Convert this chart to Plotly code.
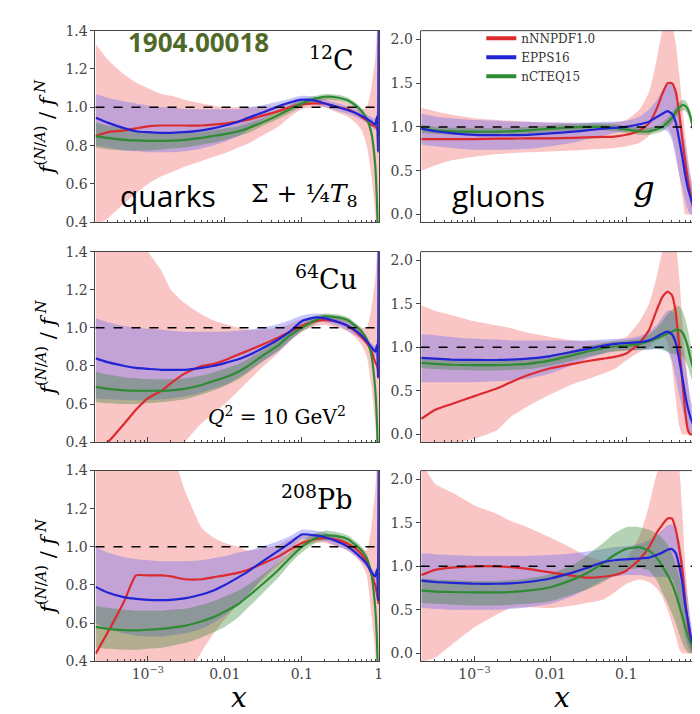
import plotly.graph_objects as go

# ---------------- data ----------------
XQ = [2.1e-4, 3e-4, 5e-4, 7e-4, 1e-3, 1.5e-3, 2e-3, 3e-3, 5e-3, 7e-3, 0.01, 0.015, 0.02, 0.03,
      0.05, 0.07, 0.1, 0.15, 0.2, 0.3, 0.4, 0.5, 0.6, 0.7, 0.8, 0.9, 0.95, 0.98, 1.0]
XG = [2e-4, 3e-4, 5e-4, 1e-3, 2e-3, 3e-3, 5e-3, 0.01, 0.02, 0.03, 0.05, 0.07, 0.1, 0.15, 0.2,
      0.25, 0.3, 0.35, 0.4, 0.45, 0.5, 0.55, 0.6, 0.65, 0.7, 0.75, 0.8, 0.85, 0.9, 0.95, 1.0]

# 12C quarks
C_Q_NNPDF = [0.85,0.87,0.88,0.89,0.90,0.905,0.905,0.905,0.905,0.91,0.915,0.925,0.935,0.955,0.98,1.0,1.015,1.02,1.02,1.0,0.99,0.97,0.95,0.93,0.91,0.90,0.89,0.88,0.85]
C_Q_NNPDF_HI = [1.33,1.25,1.17,1.13,1.10,1.07,1.06,1.04,1.02,1.01,1.0,1.0,1.0,1.0,1.01,1.03,1.04,1.05,1.05,1.04,1.02,1.0,0.99,1.0,1.1,1.25,1.4,1.5,1.5]
C_Q_NNPDF_LO = [0.38,0.42,0.5,0.55,0.6,0.64,0.66,0.69,0.72,0.74,0.76,0.79,0.81,0.85,0.9,0.95,0.99,1.0,1.0,0.97,0.95,0.92,0.88,0.8,0.65,0.45,0.3,0.3,0.3]
C_Q_EPPS = [0.945,0.92,0.89,0.875,0.87,0.867,0.867,0.87,0.88,0.89,0.905,0.925,0.945,0.97,1.005,1.025,1.04,1.035,1.02,1.0,0.985,0.97,0.955,0.94,0.925,0.91,0.95,0.77,1.5]
C_Q_EPPS_HI = [1.07,1.05,1.03,1.02,1.01,1.0,1.0,0.99,0.99,0.99,0.99,0.99,1.0,1.01,1.03,1.045,1.06,1.055,1.04,1.02,1.005,0.99,0.975,0.96,0.95,0.94,0.98,0.8,1.5]
C_Q_EPPS_LO = [0.8,0.79,0.775,0.77,0.765,0.765,0.765,0.77,0.785,0.8,0.82,0.85,0.88,0.93,0.98,1.005,1.02,1.015,1.0,0.98,0.965,0.95,0.935,0.92,0.9,0.88,0.92,0.74,1.5]
C_Q_NCTEQ = [0.85,0.84,0.83,0.827,0.825,0.825,0.826,0.83,0.84,0.85,0.86,0.875,0.89,0.92,0.96,0.99,1.02,1.045,1.055,1.05,1.035,1.01,0.98,0.94,0.87,0.7,0.5,0.3,0.2]
C_Q_NCTEQ_HI = [0.92,0.905,0.89,0.88,0.87,0.865,0.865,0.865,0.87,0.88,0.89,0.9,0.915,0.94,0.98,1.01,1.04,1.06,1.07,1.065,1.05,1.025,0.995,0.955,0.89,0.72,0.53,0.33,0.23]
C_Q_NCTEQ_LO = [0.79,0.78,0.775,0.775,0.775,0.78,0.785,0.79,0.805,0.815,0.83,0.85,0.865,0.9,0.94,0.97,1.0,1.03,1.04,1.035,1.02,0.995,0.965,0.925,0.85,0.68,0.47,0.27,0.17]

# 64Cu quarks
CU_Q_NNPDF = [0.37,0.4,0.5,0.57,0.63,0.67,0.71,0.76,0.8,0.81,0.83,0.86,0.88,0.91,0.95,0.98,1.01,1.035,1.04,1.03,1.01,0.98,0.95,0.92,0.88,0.82,0.8,0.78,0.75]
CU_Q_NNPDF_HI = [1.5,1.5,1.5,1.5,1.4,1.3,1.2,1.13,1.07,1.04,1.02,1.0,0.99,0.99,1.0,1.02,1.045,1.06,1.065,1.06,1.04,1.02,1.0,1.0,1.1,1.25,1.4,1.5,1.5]
CU_Q_NNPDF_LO = [0.3,0.3,0.3,0.3,0.3,0.3,0.3,0.4,0.5,0.55,0.6,0.67,0.72,0.79,0.87,0.93,0.98,1.01,1.015,1.0,0.98,0.95,0.91,0.85,0.7,0.5,0.35,0.3,0.3]
CU_Q_EPPS = [0.84,0.82,0.8,0.79,0.785,0.78,0.78,0.78,0.79,0.8,0.815,0.835,0.855,0.89,0.94,0.98,1.035,1.055,1.05,1.03,1.01,0.985,0.96,0.93,0.9,0.875,0.91,0.74,1.5]
CU_Q_EPPS_HI = [1.05,1.03,1.01,1.0,0.995,0.99,0.985,0.98,0.98,0.98,0.98,0.985,0.99,1.0,1.02,1.04,1.065,1.075,1.07,1.05,1.03,1.005,0.98,0.95,0.92,0.9,0.94,0.77,1.5]
CU_Q_EPPS_LO = [0.63,0.625,0.62,0.62,0.62,0.625,0.63,0.64,0.66,0.68,0.7,0.74,0.77,0.82,0.88,0.93,0.99,1.03,1.03,1.01,0.985,0.96,0.94,0.91,0.88,0.85,0.88,0.71,1.5]
CU_Q_NCTEQ = [0.69,0.68,0.672,0.67,0.67,0.67,0.672,0.68,0.7,0.72,0.74,0.77,0.8,0.85,0.91,0.96,1.0,1.04,1.06,1.055,1.04,1.01,0.98,0.94,0.86,0.68,0.5,0.3,0.2]
CU_Q_NCTEQ_HI = [0.77,0.755,0.74,0.735,0.73,0.73,0.73,0.735,0.75,0.765,0.785,0.81,0.835,0.88,0.94,0.985,1.02,1.06,1.075,1.07,1.055,1.025,0.995,0.955,0.88,0.7,0.52,0.32,0.22]
CU_Q_NCTEQ_LO = [0.61,0.605,0.6,0.6,0.605,0.61,0.615,0.625,0.65,0.67,0.695,0.73,0.765,0.82,0.88,0.935,0.98,1.02,1.045,1.04,1.025,0.995,0.965,0.925,0.84,0.66,0.48,0.28,0.18]

# 208Pb quarks
PB_Q_NNPDF = [0.44,0.55,0.72,0.85,0.85,0.85,0.845,0.83,0.83,0.84,0.85,0.865,0.88,0.91,0.95,0.985,1.02,1.04,1.045,1.035,1.015,0.99,0.96,0.92,0.86,0.8,0.75,0.72,0.7]
PB_Q_NNPDF_HI = [1.5,1.5,1.5,1.5,1.5,1.5,1.5,1.3,1.1,1.05,1.02,1.0,0.98,0.99,1.01,1.04,1.06,1.07,1.065,1.05,1.03,1.01,0.99,0.98,1.1,1.3,1.45,1.5,1.5]
PB_Q_NNPDF_LO = [0.3,0.3,0.3,0.3,0.3,0.3,0.3,0.3,0.45,0.54,0.62,0.7,0.75,0.82,0.9,0.95,1.0,1.02,1.02,1.0,0.98,0.95,0.91,0.85,0.65,0.45,0.3,0.3,0.3]
PB_Q_EPPS = [0.79,0.76,0.735,0.727,0.722,0.72,0.722,0.73,0.75,0.77,0.8,0.84,0.87,0.92,0.98,1.02,1.065,1.06,1.05,1.025,1.0,0.97,0.94,0.91,0.87,0.845,0.88,0.72,1.5]
PB_Q_EPPS_HI = [1.0,0.97,0.945,0.935,0.93,0.925,0.925,0.925,0.93,0.94,0.95,0.97,0.98,1.0,1.03,1.055,1.09,1.085,1.075,1.05,1.02,0.99,0.96,0.93,0.89,0.87,0.91,0.75,1.5]
PB_Q_EPPS_LO = [0.6,0.57,0.545,0.535,0.53,0.53,0.535,0.545,0.57,0.6,0.64,0.7,0.75,0.83,0.92,0.98,1.04,1.04,1.03,1.0,0.98,0.95,0.92,0.89,0.85,0.82,0.85,0.69,1.5]
PB_Q_NCTEQ = [0.58,0.57,0.563,0.562,0.565,0.57,0.575,0.585,0.61,0.63,0.66,0.7,0.74,0.8,0.88,0.94,1.0,1.045,1.06,1.055,1.04,1.01,0.98,0.94,0.86,0.68,0.5,0.3,0.2]
PB_Q_NCTEQ_HI = [0.69,0.68,0.67,0.665,0.665,0.665,0.67,0.675,0.695,0.715,0.74,0.77,0.8,0.85,0.92,0.97,1.03,1.07,1.085,1.075,1.06,1.03,1.0,0.96,0.88,0.7,0.52,0.32,0.22]
PB_Q_NCTEQ_LO = [0.47,0.465,0.46,0.46,0.465,0.47,0.48,0.495,0.525,0.55,0.58,0.63,0.68,0.75,0.84,0.91,0.97,1.02,1.035,1.035,1.02,0.99,0.96,0.92,0.84,0.66,0.48,0.28,0.18]

# 12C gluons
C_G_NNPDF = [0.86,0.86,0.86,0.86,0.865,0.865,0.87,0.87,0.875,0.88,0.885,0.89,0.91,0.96,1.04,1.2,1.38,1.5,1.5,1.4,1.15,0.85,0.6,0.4,0.25,0.1,0.02,0,0,0,0]
C_G_NNPDF_HI = [1.22,1.18,1.14,1.1,1.08,1.07,1.06,1.05,1.04,1.04,1.04,1.05,1.08,1.2,1.4,1.75,2.1,2.2,2.15,1.95,1.6,1.25,0.9,0.65,0.45,0.3,0.15,0.05,0,0,0]
C_G_NNPDF_LO = [0.5,0.56,0.62,0.66,0.69,0.7,0.71,0.72,0.73,0.74,0.75,0.76,0.78,0.82,0.9,1.0,1.05,1.0,0.9,0.7,0.45,0.2,0,0,0,0,0,0,0,0,0]
C_G_EPPS = [0.98,0.95,0.93,0.91,0.905,0.905,0.91,0.925,0.945,0.96,0.98,0.99,1.0,1.03,1.06,1.11,1.15,1.18,1.15,1.05,0.85,0.65,0.45,0.3,0.2,0.12,0.07,0.03,0.01,0,0]
C_G_EPPS_HI = [1.15,1.12,1.1,1.08,1.07,1.06,1.06,1.05,1.05,1.05,1.06,1.06,1.07,1.12,1.2,1.3,1.42,1.5,1.5,1.4,1.2,1.0,0.8,0.6,0.45,0.3,0.2,0.1,0.05,0.02,0]
C_G_EPPS_LO = [0.8,0.78,0.76,0.74,0.74,0.74,0.75,0.78,0.82,0.86,0.9,0.93,0.95,0.96,0.96,0.97,0.97,0.95,0.85,0.65,0.45,0.3,0.15,0.05,0,0,0,0,0,0,0]
C_G_NCTEQ = [0.98,0.96,0.95,0.945,0.945,0.95,0.96,0.98,0.995,1.0,1.0,0.99,0.97,0.95,0.95,0.97,1.0,1.05,1.1,1.17,1.22,1.25,1.24,1.2,1.12,1.0,0.85,0.7,0.6,0.5,0.4]
C_G_NCTEQ_HI = [1.03,1.0,0.99,0.985,0.985,0.99,1.0,1.02,1.035,1.04,1.04,1.03,1.01,0.99,0.99,1.01,1.05,1.1,1.16,1.23,1.28,1.31,1.3,1.26,1.18,1.07,0.92,0.77,0.67,0.57,0.47]
C_G_NCTEQ_LO = [0.93,0.92,0.91,0.905,0.905,0.91,0.92,0.94,0.955,0.96,0.96,0.95,0.93,0.91,0.91,0.93,0.95,1.0,1.04,1.11,1.16,1.19,1.18,1.14,1.06,0.93,0.78,0.63,0.53,0.43,0.33]

# 64Cu gluons
CU_G_NNPDF = [0.18,0.28,0.35,0.44,0.53,0.6,0.68,0.76,0.81,0.84,0.87,0.89,0.93,1.05,1.2,1.42,1.58,1.64,1.6,1.4,1.0,0.6,0.25,0.05,0,0,0,0,0,0,0]
CU_G_NNPDF_HI = [1.48,1.42,1.37,1.3,1.25,1.22,1.17,1.12,1.08,1.07,1.07,1.08,1.12,1.3,1.5,1.8,2.1,2.2,2.2,2.15,1.8,1.3,0.9,0.6,0.35,0.15,0.05,0,0,0,0]
CU_G_NNPDF_LO = [-0.1,-0.1,-0.1,-0.05,0.05,0.2,0.32,0.46,0.58,0.63,0.7,0.75,0.85,0.95,1.0,1.1,1.15,1.05,0.8,0.4,0.1,0,0,0,0,0,0,0,0,0,0]
CU_G_EPPS = [0.88,0.87,0.86,0.855,0.855,0.86,0.87,0.9,0.95,0.98,1.02,1.04,1.05,1.06,1.08,1.12,1.16,1.18,1.15,1.05,0.85,0.65,0.45,0.3,0.2,0.13,0.09,0.06,0.05,0.03,0.02]
CU_G_EPPS_HI = [1.15,1.14,1.12,1.1,1.09,1.08,1.08,1.08,1.08,1.08,1.09,1.1,1.1,1.13,1.18,1.25,1.35,1.42,1.42,1.35,1.2,1.0,0.8,0.6,0.42,0.3,0.2,0.12,0.08,0.05,0.03]
CU_G_EPPS_LO = [0.6,0.6,0.6,0.6,0.61,0.62,0.64,0.7,0.8,0.87,0.93,0.96,0.97,0.97,0.97,0.98,0.98,0.95,0.85,0.65,0.45,0.3,0.15,0.05,0,0,0,0,0,0,0]
CU_G_NCTEQ = [0.82,0.81,0.8,0.795,0.795,0.8,0.81,0.85,0.91,0.95,0.99,1.01,1.02,1.04,1.07,1.1,1.13,1.16,1.18,1.2,1.2,1.17,1.1,1.0,0.88,0.78,0.68,0.58,0.5,0.45,0.4]
CU_G_NCTEQ_HI = [0.88,0.87,0.86,0.855,0.855,0.86,0.87,0.91,0.97,1.01,1.05,1.07,1.08,1.1,1.15,1.22,1.3,1.38,1.43,1.47,1.47,1.42,1.33,1.2,1.05,0.93,0.82,0.7,0.62,0.56,0.5]
CU_G_NCTEQ_LO = [0.76,0.75,0.74,0.735,0.735,0.74,0.75,0.79,0.85,0.89,0.93,0.95,0.96,0.97,0.98,0.98,0.97,0.95,0.93,0.92,0.92,0.9,0.85,0.78,0.68,0.6,0.52,0.45,0.38,0.33,0.28]

# 208Pb gluons
PB_G_NNPDF = [0.9,0.96,0.985,1.0,1.0,0.99,0.97,0.93,0.89,0.87,0.88,0.9,0.95,1.08,1.22,1.38,1.48,1.55,1.55,1.42,1.2,0.95,0.6,0.35,0.15,0.05,0,0,0,0,0]
PB_G_NNPDF_HI = [2.2,1.95,1.85,1.7,1.6,1.52,1.45,1.33,1.2,1.12,1.06,1.05,1.08,1.35,1.7,2.05,2.2,2.2,2.2,2.2,2.1,1.6,1.0,0.65,0.35,0.15,0.05,0,0,0,0]
PB_G_NNPDF_LO = [-0.1,-0.05,0.1,0.3,0.45,0.52,0.53,0.52,0.55,0.58,0.62,0.7,0.8,0.85,0.82,0.75,0.65,0.5,0.35,0.2,0.05,0,0,0,0,0,0,0,0,0,0]
PB_G_EPPS = [0.835,0.82,0.81,0.8,0.8,0.805,0.82,0.86,0.93,0.98,1.05,1.07,1.08,1.09,1.1,1.13,1.16,1.19,1.2,1.15,1.0,0.8,0.55,0.38,0.22,0.12,0.06,0.03,0.02,0.01,0]
PB_G_EPPS_HI = [1.15,1.14,1.13,1.12,1.12,1.12,1.12,1.13,1.15,1.17,1.2,1.22,1.23,1.26,1.3,1.35,1.42,1.47,1.48,1.42,1.3,1.1,0.85,0.62,0.4,0.25,0.14,0.07,0.04,0.02,0]
PB_G_EPPS_LO = [0.52,0.51,0.5,0.5,0.5,0.51,0.53,0.57,0.66,0.74,0.84,0.88,0.9,0.9,0.88,0.88,0.88,0.88,0.86,0.75,0.55,0.35,0.18,0.08,0.02,0,0,0,0,0,0]
PB_G_NCTEQ = [0.72,0.71,0.705,0.7,0.7,0.705,0.72,0.76,0.85,0.92,1.04,1.13,1.2,1.22,1.18,1.1,1.0,0.9,0.8,0.68,0.55,0.42,0.3,0.2,0.12,0.07,0.03,0.01,0,0,0]
PB_G_NCTEQ_HI = [0.86,0.85,0.84,0.83,0.83,0.84,0.86,0.91,1.02,1.12,1.27,1.38,1.45,1.45,1.42,1.38,1.32,1.25,1.15,1.02,0.88,0.72,0.55,0.4,0.25,0.15,0.08,0.03,0.01,0,0]
PB_G_NCTEQ_LO = [0.58,0.57,0.56,0.55,0.55,0.56,0.57,0.6,0.68,0.73,0.82,0.9,0.96,0.98,0.95,0.85,0.7,0.58,0.46,0.35,0.22,0.12,0.05,0.01,0,0,0,0,0,0,0]

SETS = ["nNNPDF1.0", "EPPS16", "nCTEQ15"]
X_TICKVALS = [1e-3, 1e-2, 1e-1, 1]
X_TICKTEXT = ["10<sup>\u22123</sup>", "0.01", "0.1", "1"]
YQ_TICKS = [0.4, 0.6, 0.8, 1.0, 1.2, 1.4]
YG_TICKS = [0.0, 0.5, 1.0, 1.5, 2.0]
MINOR_X = [k * 10.0 ** d for d in (-4, -3, -2, -1) for k in range(2, 10)]

PANELS = [
    (1, XQ, {"nNNPDF1.0": (C_Q_NNPDF, C_Q_NNPDF_LO, C_Q_NNPDF_HI),
             "EPPS16": (C_Q_EPPS, C_Q_EPPS_LO, C_Q_EPPS_HI),
             "nCTEQ15": (C_Q_NCTEQ, C_Q_NCTEQ_LO, C_Q_NCTEQ_HI)}),
    (2, XG, {"nNNPDF1.0": (C_G_NNPDF, C_G_NNPDF_LO, C_G_NNPDF_HI),
             "EPPS16": (C_G_EPPS, C_G_EPPS_LO, C_G_EPPS_HI),
             "nCTEQ15": (C_G_NCTEQ, C_G_NCTEQ_LO, C_G_NCTEQ_HI)}),
    (3, XQ, {"nNNPDF1.0": (CU_Q_NNPDF, CU_Q_NNPDF_LO, CU_Q_NNPDF_HI),
             "EPPS16": (CU_Q_EPPS, CU_Q_EPPS_LO, CU_Q_EPPS_HI),
             "nCTEQ15": (CU_Q_NCTEQ, CU_Q_NCTEQ_LO, CU_Q_NCTEQ_HI)}),
    (4, XG, {"nNNPDF1.0": (CU_G_NNPDF, CU_G_NNPDF_LO, CU_G_NNPDF_HI),
             "EPPS16": (CU_G_EPPS, CU_G_EPPS_LO, CU_G_EPPS_HI),
             "nCTEQ15": (CU_G_NCTEQ, CU_G_NCTEQ_LO, CU_G_NCTEQ_HI)}),
    (5, XQ, {"nNNPDF1.0": (PB_Q_NNPDF, PB_Q_NNPDF_LO, PB_Q_NNPDF_HI),
             "EPPS16": (PB_Q_EPPS, PB_Q_EPPS_LO, PB_Q_EPPS_HI),
             "nCTEQ15": (PB_Q_NCTEQ, PB_Q_NCTEQ_LO, PB_Q_NCTEQ_HI)}),
    (6, XG, {"nNNPDF1.0": (PB_G_NNPDF, PB_G_NNPDF_LO, PB_G_NNPDF_HI),
             "EPPS16": (PB_G_EPPS, PB_G_EPPS_LO, PB_G_EPPS_HI),
             "nCTEQ15": (PB_G_NCTEQ, PB_G_NCTEQ_LO, PB_G_NCTEQ_HI)}),
]

# ---------------- style ----------------
W, H = 700, 714
LINE = {"nNNPDF1.0": "#dc2a2e", "EPPS16": "#2323d6", "nCTEQ15": "#2e8b34"}
BAND = {"nNNPDF1.0": "rgba(245,140,140,0.50)",
        "EPPS16": "rgba(105,105,240,0.38)",
        "nCTEQ15": "rgba(40,130,40,0.35)"}
SERIF = "DejaVu Serif"
TICK_COL = "#444444"


def PX(x):
    return x / W


def PY(y):
    return 1 - y / H


def ax_names(i):
    return ("x" if i == 1 else f"x{i}"), ("y" if i == 1 else f"y{i}")


fig = go.Figure()

for i, xs, data in PANELS:
    xa, ya = ax_names(i)
    for name in SETS:
        c, lo, hi = data[name]
        fig.add_trace(go.Scatter(
            x=list(xs) + list(xs)[::-1], y=list(hi) + list(lo)[::-1],
            fill="toself", fillcolor=BAND[name],
            line=dict(width=0, shape="spline", smoothing=0.5),
            mode="lines", hoverinfo="skip", showlegend=False, xaxis=xa, yaxis=ya))
    for name in ["nNNPDF1.0", "nCTEQ15", "EPPS16"]:
        c, lo, hi = data[name]
        fig.add_trace(go.Scatter(
            x=xs, y=c, mode="lines",
            line=dict(color=LINE[name], width=2.2, shape="spline", smoothing=0.5),
            showlegend=False, xaxis=xa, yaxis=ya))

# legend entries
for name in SETS:
    fig.add_trace(go.Scatter(x=[None], y=[None], mode="lines", name=name,
                             line=dict(color=LINE[name], width=4),
                             xaxis="x2", yaxis="y2", showlegend=True))

ROW_Y = [(15, 211), (241, 436), (465, 660)]
shapes = []
for r in range(3):
    for c in range(2):
        i = 2 * r + c + 1
        xa, ya = ax_names(i)
        xkey = "xaxis" if i == 1 else f"xaxis{i}"
        ykey = "yaxis" if i == 1 else f"yaxis{i}"
        y0, y1 = ROW_Y[r]
        dom_y = [PY(y1), PY(y0)]
        if c == 0:
            dom_x = [PX(88), PX(373)]
            xr = [-3.68, 0.002]
            yr = [0.4, 1.4]
            ytv = YQ_TICKS
        else:
            dom_x = [PX(415), 1.0]
            xr = [-3.71, 0.025]
            yr = [-0.09, 2.1]
            ytv = YG_TICKS
        fig.layout[xkey] = dict(
            type="log", domain=dom_x, range=xr, anchor=ya,
            tickmode="array", tickvals=X_TICKVALS, ticktext=X_TICKTEXT,
            ticks="inside", ticklen=5, tickwidth=1, tickcolor=TICK_COL,
            showticklabels=(r == 2), showline=True, linecolor=TICK_COL, linewidth=1,
            mirror=(c == 0), showgrid=False, zeroline=False,
            minor=dict(tickmode="array", tickvals=MINOR_X, ticks="inside",
                       ticklen=2.5, tickcolor=TICK_COL, showgrid=False),
            tickfont=dict(family=SERIF, size=14, color=TICK_COL))
        fig.layout[ykey] = dict(
            domain=dom_y, range=yr, anchor=xa,
            tickmode="array", tickvals=ytv, tickformat=".1f",
            ticks="outside", ticklen=4, tickcolor=TICK_COL,
            showline=True, linecolor=TICK_COL, linewidth=1,
            mirror=(c == 0), showgrid=False, zeroline=False,
            tickfont=dict(family=SERIF, size=14, color=TICK_COL))
        shapes.append(dict(type="line", xref=f"{xa} domain", yref=ya,
                           x0=0, x1=1, y0=1, y1=1, layer="above",
                           line=dict(color="black", width=1.5, dash="dash")))
        if c == 1:
            shapes.append(dict(type="line", xref="paper", yref="paper",
                               x0=PX(415), x1=1.0, y0=PY(y0), y1=PY(y0),
                               line=dict(color=TICK_COL, width=1)))

annotations = []


def ann(text, x, y, size, family=SERIF, color="black", angle=0, **kw):
    annotations.append(dict(text=text, x=PX(x), y=PY(y), xref="paper", yref="paper",
                            showarrow=False, textangle=angle, xanchor="center",
                            yanchor="middle",
                            font=dict(family=family, size=size, color=color), **kw))


YLAB = "<i>f</i><sup>(<i>N</i>/<i>A</i>)</sup> / <i>f</i><sup> <i>N</i></sup>"
for (y0, y1) in ROW_Y:
    ann(YLAB, 38, (y0 + y1) / 2, 21, angle=-90)

ann("<b>1904.00018</b>", 192, 27, 26, family="Open Sans", color="#4f6a28")
ann("<sup>12</sup>C", 325, 43, 27)
ann("quarks", 161, 184, 30, family="Open Sans")
ann("\u03a3 + \u00bc<i>T</i><sub>8</sub>", 298, 183, 25)
ann("gluons", 493, 184, 30, family="Open Sans")
ann("<i>g</i>", 640, 176, 34)
ann("<sup>64</sup>Cu", 320, 267, 27)
ann("<i>Q</i><sup>2</sup> = 10 GeV<sup>2</sup>", 271, 409, 20)
ann("<sup>208</sup>Pb", 311, 493, 27)
ann("<i>x</i>", 232, 697, 28)
ann("<i>x</i>", 557, 697, 28)

fig.update_layout(
    width=W, height=H, autosize=False,
    margin=dict(l=0, r=0, t=0, b=0),
    paper_bgcolor="white", plot_bgcolor="white",
    shapes=shapes, annotations=annotations,
    showlegend=True,
    legend=dict(x=PX(476), y=PY(8), xanchor="left", yanchor="top",
                bgcolor="rgba(0,0,0,0)", borderwidth=0,
                font=dict(family=SERIF, size=12, color="#333"),
                tracegroupgap=0, itemwidth=30),
)

fig.write_html("out.html")
